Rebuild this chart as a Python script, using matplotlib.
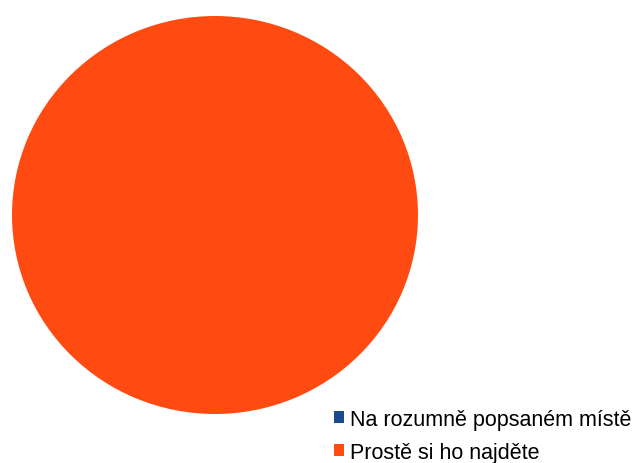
import matplotlib.pyplot as plt
from matplotlib.patches import Patch

labels = ['Na rozumně popsaném místě', 'Prostě si ho najděte']
values = [0, 100]
colors = ['#1A4A8E', '#FF4A12']

W, H = 637, 464
fig = plt.figure(figsize=(W / 100, H / 100), dpi=100)
# pie area in pixels: x 12..418, y 17..415
ax = fig.add_axes([12 / W, (H - 415) / H, 406 / W, 398 / H])
ax.pie(values, colors=colors, startangle=90, counterclock=False, radius=1)
ax.set_aspect('auto')
ax.set_xlim(-1, 1)
ax.set_ylim(-1, 1)
ax.axis('off')

handles = [Patch(facecolor=c, edgecolor='none') for c in colors]
fig.legend(handles, labels, loc='upper left', bbox_to_anchor=(334 / W, 1 - 410 / H),
           frameon=False, handlelength=0.47, handleheight=0.47,
           handletextpad=0.28, labelspacing=0.55, borderaxespad=0, borderpad=0,
           prop={'family': 'Liberation Sans', 'size': 15.5})

fig.savefig('out.png', dpi=100, facecolor='white')
